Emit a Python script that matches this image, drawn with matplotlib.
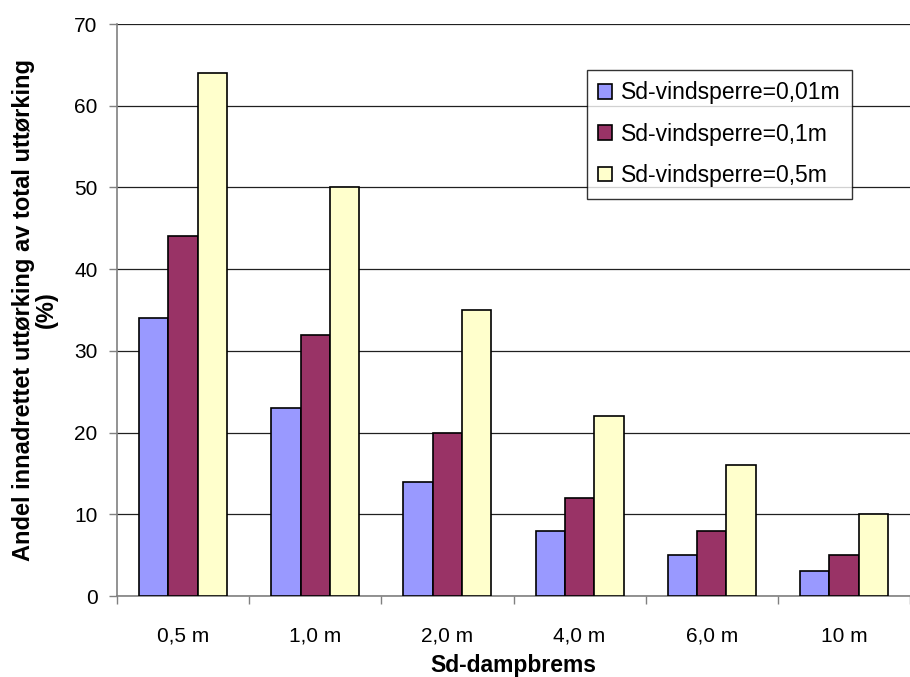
import matplotlib.pyplot as plt
import numpy as np

plt.rcParams['font.family'] = ['Liberation Sans', 'DejaVu Sans']

categories = ['0,5 m', '1,0 m', '2,0 m', '4,0 m', '6,0 m', '10 m']
series_names = ['Sd-vindsperre=0,01m', 'Sd-vindsperre=0,1m', 'Sd-vindsperre=0,5m']
vals_001 = [34, 23, 14, 8, 5, 3]
vals_01 = [44, 32, 20, 12, 8, 5]
vals_05 = [64, 50, 35, 22, 16, 10]
colors = ['#9999FF', '#993366', '#FFFFCC']

fig = plt.figure(figsize=(9.1, 6.77), dpi=100)
ax = fig.add_axes([117 / 910, 81 / 677, 793 / 910, 572 / 677])

x = np.arange(len(categories))
w = 0.222
for i, (vals, name, c) in enumerate(zip([vals_001, vals_01, vals_05], series_names, colors)):
    ax.bar(x + (i - 1) * w, vals, width=w, color=c, edgecolor='black',
           linewidth=1.2, label=name, zorder=3)

ax.set_ylim(0, 70)
ax.set_yticks(range(0, 71, 10))
ax.set_xlim(-0.5, -0.5 + 793 / 133.5)
ax.set_xticks(x)
ax.set_xticklabels(categories)
ax.set_xticks(np.arange(len(categories) + 1) - 0.5, minor=True)
ax.tick_params(axis='x', which='major', length=0, pad=22, labelsize=15)
ax.tick_params(axis='x', which='minor', length=6, width=1, color='#808080', direction='out')
ax.tick_params(axis='y', length=6, width=1, color='#808080', labelsize=15, direction='out', pad=8)
ax.yaxis.grid(True, color='#202020', linewidth=0.9, zorder=0)
ax.set_axisbelow(True)

for s in ['top', 'right']:
    ax.spines[s].set_visible(False)
for s in ['left', 'bottom']:
    ax.spines[s].set_color('#808080')
    ax.spines[s].set_linewidth(1.2)

ax.set_xlabel('Sd-dampbrems', fontsize=16.5, fontweight='bold')
ax.xaxis.set_label_coords(0.5, -0.101)
ax.set_ylabel('Andel innadrettet uttørking av total uttørking\n(%)', fontsize=17,
              fontweight='bold', labelpad=12, linespacing=1.0)

leg = ax.legend(loc='upper left', bbox_to_anchor=(470 / 793, 526 / 572),
                borderaxespad=0, fontsize=16.5, frameon=True, fancybox=False,
                edgecolor='black', handlelength=0.6, handleheight=0.6,
                handletextpad=0.4, labelspacing=0.8, borderpad=0.5)
leg.get_frame().set_linewidth(1.0)

fig.savefig('out.png', dpi=100)
